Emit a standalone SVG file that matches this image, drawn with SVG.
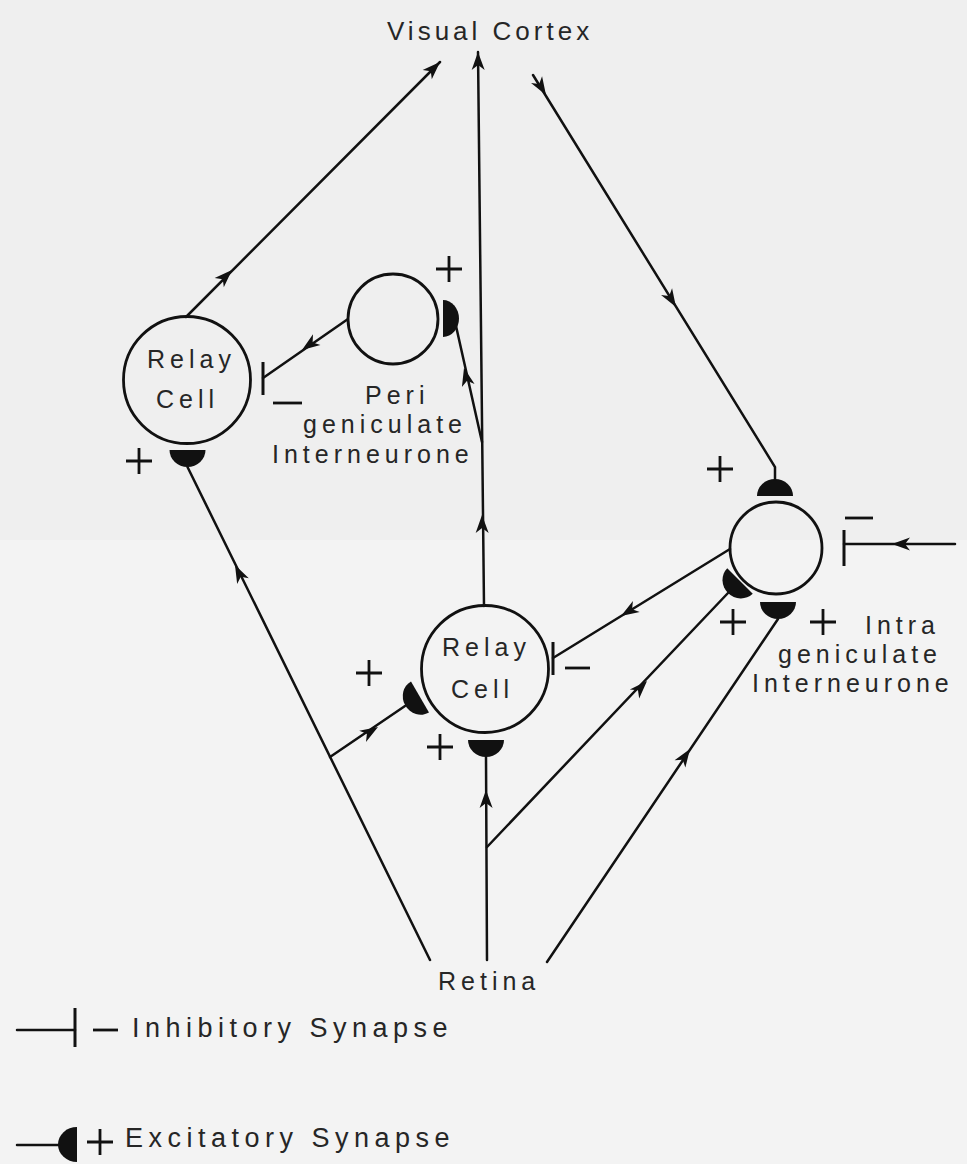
<svg xmlns="http://www.w3.org/2000/svg" xmlns:xlink="http://www.w3.org/1999/xlink" width="967" height="1164" viewBox="0 0 967 1164">
<style>
.ln{stroke:#111;stroke-width:2.5;fill:none;stroke-linecap:round}
.cell{stroke:#111;stroke-width:2.8;fill:none}
.bar{stroke:#111;stroke-width:3;fill:none}
.sign{stroke:#111;stroke-width:2.8;fill:none}
.lbl{font-family:"Liberation Sans",Arial,sans-serif;font-size:25px;letter-spacing:5px;fill:#262626}
.big{font-family:"Liberation Sans",Arial,sans-serif;font-size:26px;letter-spacing:4px;fill:#262626}
.leg{font-family:"Liberation Sans",Arial,sans-serif;font-size:27px;letter-spacing:5.5px;fill:#262626}
.fill{fill:#111}
</style>
<defs>
<path id="ah" d="M0,0 L-18,-6.5 L-13,0 L-18,6.5 Z" fill="#111"/>
<path id="syn" d="M-18,0 A18,17 0 0 0 18,0 Z" fill="#111"/>
<path id="plus" d="M-13,0 H13 M0,-13 V13" stroke="#111" stroke-width="2.8" fill="none"/>
</defs>
<rect x="0" y="0" width="967" height="540" fill="#efefef"/>
<rect x="0" y="540" width="967" height="624" fill="#f3f3f3"/>

<g id="visual-cortex"><text class="big" x="387" y="40">Visual Cortex</text></g>
<g id="retina"><text class="lbl" x="438" y="990">Retina</text></g>

<g id="relay-left">
<circle class="cell" cx="187" cy="380" r="63.5"/>
<text class="lbl" x="147" y="368">Relay</text>
<text class="lbl" x="156" y="408">Cell</text>
<path class="bar" d="M263,362 V395"/>
<path class="sign" d="M273,403 H302"/>
<use href="#syn" transform="translate(187.5,450)"/>
<use href="#plus" transform="translate(139,461)"/>
</g>

<g id="peri-interneurone">
<circle class="cell" cx="393" cy="319" r="45"/>
<path class="fill" d="M443,300 A16,18.5 0 0 1 443,337 Z"/>
<use href="#plus" transform="translate(449,269)"/>
<text class="lbl" x="365" y="404">Peri</text>
<text class="lbl" x="303" y="433">geniculate</text>
<text class="lbl" x="272" y="463">Interneurone</text>
</g>

<g id="relay-middle">
<circle class="cell" cx="485" cy="669" r="63.5"/>
<text class="lbl" x="442" y="656">Relay</text>
<text class="lbl" x="451" y="698">Cell</text>
<path class="bar" d="M553,642 V675"/>
<path class="sign" d="M565,668 H590"/>
<use href="#syn" transform="translate(420,697) rotate(60)"/>
<use href="#plus" transform="translate(369,673)"/>
<use href="#syn" transform="translate(486,740)"/>
<use href="#plus" transform="translate(440,747)"/>
</g>

<g id="intra-interneurone">
<circle class="cell" cx="776" cy="548" r="46"/>
<use href="#syn" transform="translate(775,496) rotate(180)"/>
<use href="#plus" transform="translate(720,469)"/>
<path class="bar" d="M844,530 V566"/>
<path class="sign" d="M845,518 H873"/>
<use href="#syn" transform="translate(740,581) rotate(45)"/>
<use href="#syn" transform="translate(778,602)"/>
<use href="#plus" transform="translate(733,622)"/>
<use href="#plus" transform="translate(823,622)"/>
<text class="lbl" x="865" y="634">Intra</text>
<text class="lbl" x="778" y="663">geniculate</text>
<text class="lbl" x="752" y="692">Interneurone</text>
</g>

<g id="connectors">
<path class="ln" d="M186,317 L440,62"/>
<use href="#ah" transform="translate(440,62) rotate(-44.8)"/>
<use href="#ah" transform="translate(232,270) rotate(-44.8)"/>

<path class="ln" d="M484,606 L478,52"/>
<use href="#ah" transform="translate(478,52) rotate(-90.5)"/>
<use href="#ah" transform="translate(482,515) rotate(-90.5)"/>

<path class="ln" d="M533,75 L775,467 L775,480"/>
<use href="#ah" transform="translate(546,95) rotate(58.3)"/>
<use href="#ah" transform="translate(676,307) rotate(58.3)"/>

<path class="ln" d="M348,319 L263,378"/>
<use href="#ah" transform="translate(302,350) rotate(144.9)"/>

<path class="ln" d="M482,442 L456,326"/>
<use href="#ah" transform="translate(464,368) rotate(-103.6)"/>

<path class="ln" d="M430,960 L187.5,467"/>
<use href="#ah" transform="translate(235,565) rotate(-116.3)"/>

<path class="ln" d="M330,757 L405,706"/>
<use href="#ah" transform="translate(378,727) rotate(-31.3)"/>

<path class="ln" d="M487,960 L486,757"/>
<use href="#ah" transform="translate(486,790) rotate(-90.3)"/>

<path class="ln" d="M487,847 L728,593"/>
<use href="#ah" transform="translate(647,681) rotate(-46.1)"/>

<path class="ln" d="M547,962 L778,619"/>
<use href="#ah" transform="translate(690,749) rotate(-56.1)"/>

<path class="ln" d="M730,549 L553,658"/>
<use href="#ah" transform="translate(621,616) rotate(148.4)"/>

<path class="ln" d="M955,544 L844,544"/>
<use href="#ah" transform="translate(892,544) rotate(180)"/>
</g>

<g id="legend">
<path class="ln" d="M17,1030 H75"/>
<path class="bar" d="M75,1008 V1047"/>
<path class="sign" d="M93,1030 H118"/>
<text class="leg" x="132" y="1037">Inhibitory Synapse</text>
<path class="ln" d="M17,1145 H62"/>
<path class="fill" d="M77,1127 A19,17.5 0 0 0 77,1162 Z"/>
<use href="#plus" transform="translate(100,1142)"/>
<text class="leg" x="125" y="1147">Excitatory Synapse</text>
</g>
</svg>
